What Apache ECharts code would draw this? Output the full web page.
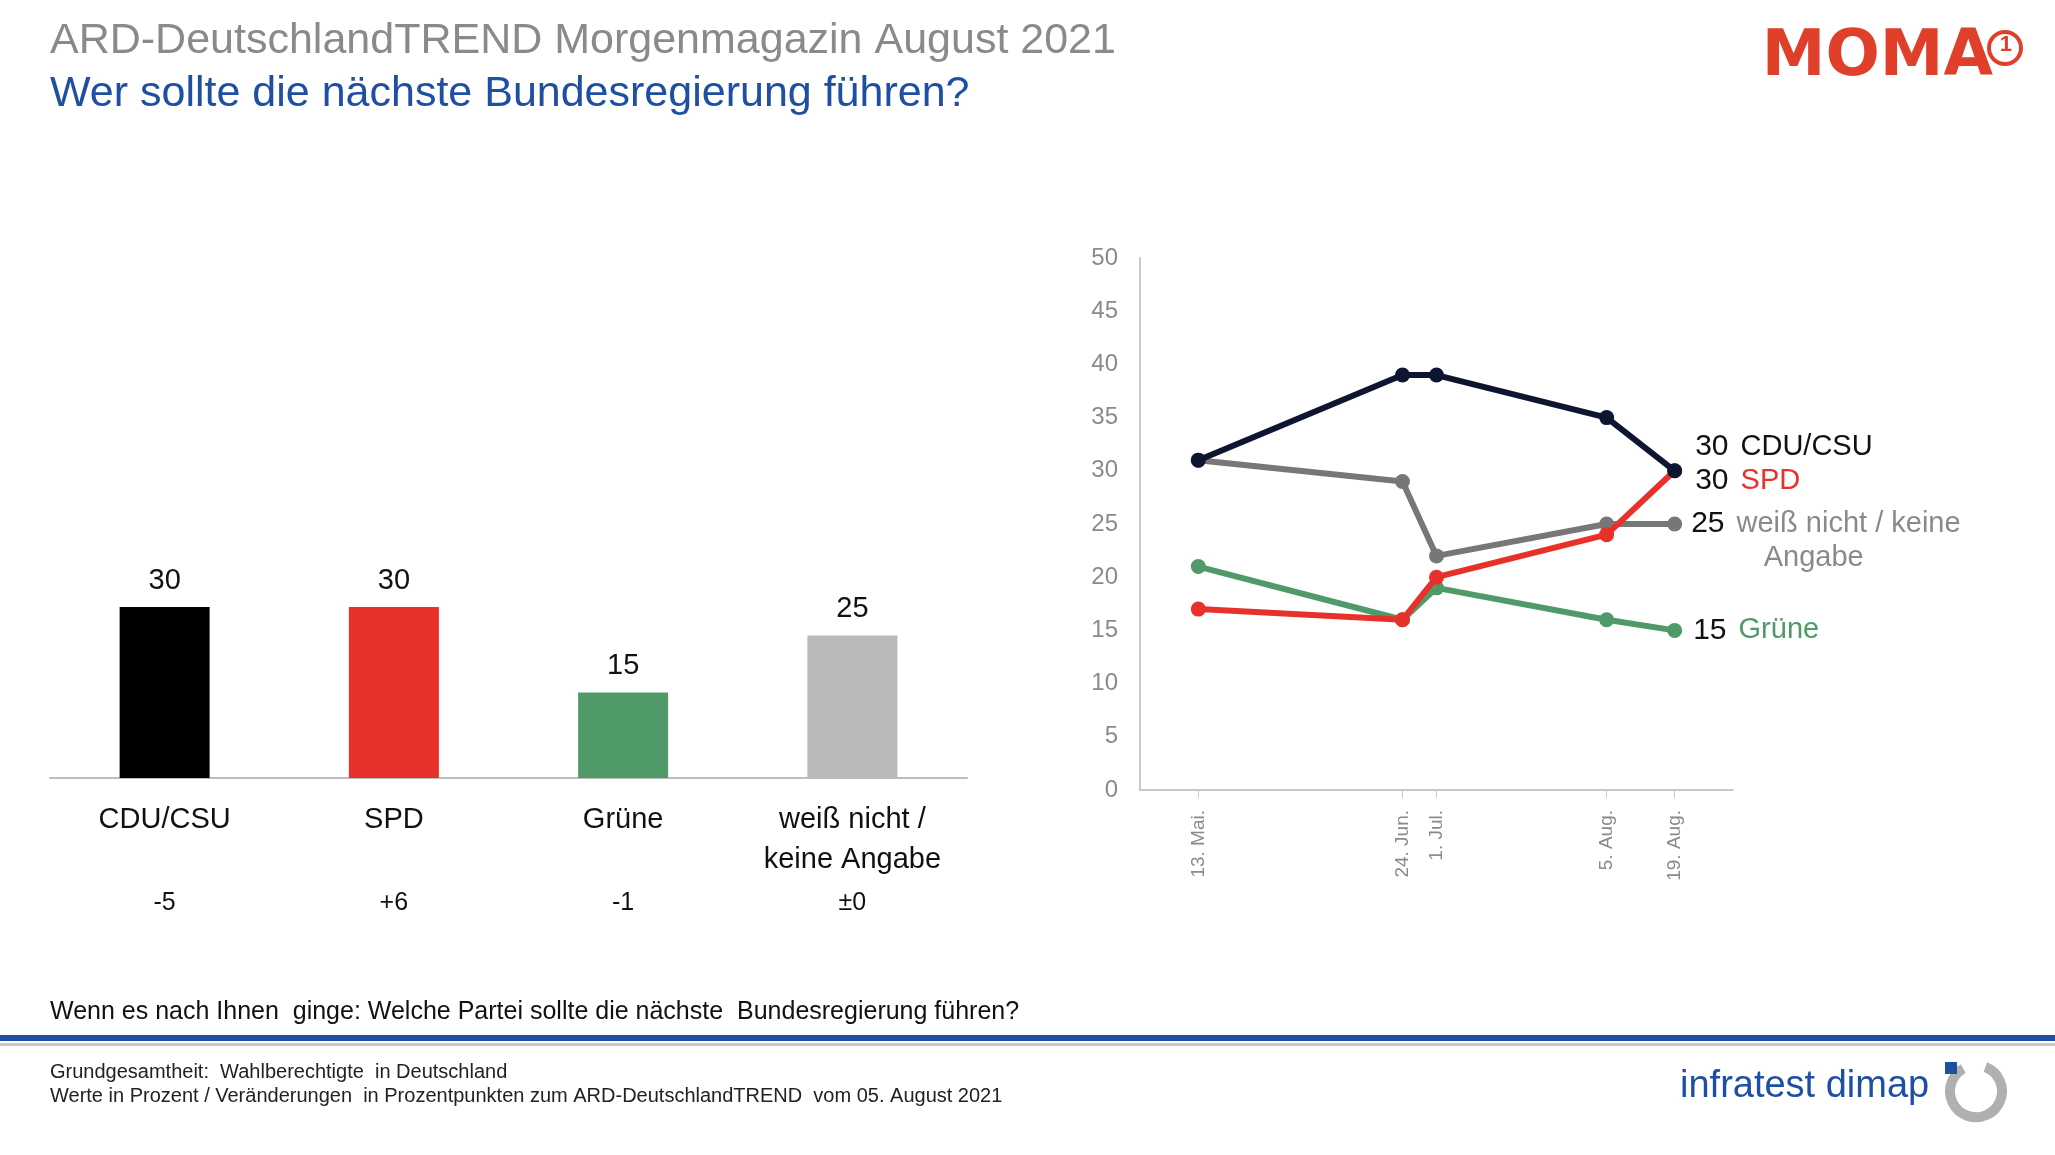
<!DOCTYPE html>
<html><head><meta charset="utf-8">
<script src="https://cdn.jsdelivr.net/npm/echarts@6/dist/echarts.min.js"></script>
<style>html,body{margin:0;background:#fff}#c{width:2055px;height:1155px}</style>
</head><body><div id="c"></div>
<script>
const barCategories = ['CDU/CSU', 'SPD', 'Grüne', 'weiß nicht /\nkeine Angabe'];
const barValues = [30, 30, 15, 25];
const barChanges = ['-5', '+6', '-1', '±0'];
const barColors = ['#000000', '#e8312a', '#4f9a68', '#b9b9b9'];

const lineDays = [133, 175, 182, 217, 231];
const lineDayLabels = ['13. Mai.', '24. Jun.', '1. Jul.', '5. Aug.', '19. Aug.'];
const cduValues = [31, 39, 39, 35, 30];
const spdValues = [17, 16, 20, 24, 30];
const grueneValues = [21, 16, 19, 16, 15];
const wnValues = [31, 29, 22, 25, 25];
const yTicks = [0, 5, 10, 15, 20, 25, 30, 35, 40, 45, 50];

const chart = echarts.init(document.getElementById('c'));
const F = 'Arial, Liberation Sans, sans-serif';

function lineSeries(name, vals, color, labelText, offset, z) {
  return {
    type: 'line', name, xAxisIndex: 1, yAxisIndex: 1, z,
    data: vals.map((v, i) => {
      const d = [lineDays[i], v];
      if (i === vals.length - 1) {
        return { value: d, label: { show: true, position: 'right', offset, formatter: labelText,
          rich: { n: { fontSize: 30, color: '#111', fontFamily: F, padding: [0, 12, 0, 0] },
                  t: { fontSize: 29, color: color === '#777777' ? '#8a8a8a' : (color === '#0d1530' ? '#111' : color), fontFamily: F, lineHeight: 34 } } } };
      }
      return d;
    }),
    symbol: 'circle', symbolSize: 15,
    lineStyle: { color, width: 6 }, itemStyle: { color },
    animation: false
  };
}

chart.setOption({
  animation: false,
  graphic: [
    { type: 'text', left: 50, top: 20, style: { text: 'ARD-DeutschlandTREND Morgenmagazin August 2021', fontSize: 43, fill: '#8a8a8a', fontFamily: F } },
    { type: 'text', left: 50, top: 73, style: { text: 'Wer sollte die nächste Bundesregierung führen?', fontSize: 43, fill: '#1f4fa3', fontFamily: F } },
    { type: 'text', right: 62, top: 26, style: { text: 'MOMA', fontSize: 64, fontWeight: 900, fill: '#e0402a', fontFamily: 'DejaVu Sans', transform: null } },
    { type: 'circle', right: 32, top: 30, shape: { r: 16 }, style: { fill: '#fff', stroke: '#e0402a', lineWidth: 4 } },
    { type: 'text', right: 43, top: 34, style: { text: '1', fontSize: 22, fontWeight: 'bold', fill: '#e0402a', fontFamily: F } },
    { type: 'text', left: 50, top: 1000, style: { text: 'Wenn es nach Ihnen  ginge: Welche Partei sollte die nächste  Bundesregierung führen?', fontSize: 25, fill: '#111', fontFamily: F } },
    { type: 'rect', left: 0, top: 1035, shape: { width: 2055, height: 6 }, style: { fill: '#1f4fa3' } },
    { type: 'rect', left: 0, top: 1043, shape: { width: 2055, height: 3 }, style: { fill: '#c8c8c8' } },
    { type: 'text', left: 50, top: 1062, style: { text: 'Grundgesamtheit:  Wahlberechtigte  in Deutschland', fontSize: 20, fill: '#222', fontFamily: F } },
    { type: 'text', left: 50, top: 1086, style: { text: 'Werte in Prozent / Veränderungen  in Prozentpunkten zum ARD-DeutschlandTREND  vom 05. August 2021', fontSize: 20, fill: '#222', fontFamily: F } },
    { type: 'text', left: 1680, top: 1068, style: { text: 'infratest dimap', fontSize: 38, fill: '#1f4fa3', fontFamily: F } },
    { type: 'arc', left: 1945, top: 1062, shape: { cx: 0, cy: 0, r: 26, startAngle: -1.2, endAngle: 4.2 }, style: { stroke: '#b0b0b0', lineWidth: 10, fill: null } },
    { type: 'rect', left: 1945, top: 1062, shape: { width: 12, height: 12 }, style: { fill: '#1f4fa3' } }
  ],
  grid: [
    { left: 50, width: 917, top: 493, bottom: 377 },
    { left: 1140, right: 322, top: 258, bottom: 365 }
  ],
  xAxis: [
    { type: 'category', gridIndex: 0, data: barCategories,
      axisLine: { lineStyle: { color: '#bdbdbd', width: 2 } }, axisTick: { show: false },
      axisLabel: { interval: 0, margin: 22, fontSize: 29, color: '#111', fontFamily: F, lineHeight: 40,
        formatter: (v, i) => (v.indexOf('\n') >= 0 ? v : v + '\n') + '\n{c|' + barChanges[i] + '}',
        rich: { c: { fontSize: 25, color: '#111', fontFamily: F, lineHeight: 40, padding: [6, 0, 0, 0] } } } },
    { type: 'value', gridIndex: 1, min: 121, max: 243,
      splitLine: { show: false },
      axisLine: { lineStyle: { color: '#c8c8c8', width: 2 } },
      axisTick: { customValues: lineDays, length: 8, lineStyle: { color: '#c8c8c8' } },
      axisLabel: { customValues: lineDays, rotate: 90, fontSize: 19, color: '#8a8a8a', fontFamily: F, margin: 20,
        formatter: v => lineDayLabels[lineDays.indexOf(v)] || '' } }
  ],
  yAxis: [
    { type: 'value', gridIndex: 0, min: 0, max: 50, show: false },
    { type: 'value', gridIndex: 1, min: 0, max: 50, interval: 5,
      splitLine: { show: false },
      axisLine: { show: true, lineStyle: { color: '#c8c8c8', width: 2 } }, axisTick: { show: false },
      axisLabel: { fontSize: 24, color: '#8a8a8a', fontFamily: F, margin: 22, customValues: yTicks } }
  ],
  series: [
    { type: 'bar', xAxisIndex: 0, yAxisIndex: 0, barWidth: 90,
      data: barValues.map((v, i) => ({ value: v, itemStyle: { color: barColors[i] } })),
      label: { show: true, position: 'top', distance: 12, fontSize: 29, color: '#111', fontFamily: F } },
    lineSeries('weiß nicht', wnValues, '#777777', '{n|25}{t|weiß nicht / keine}\n{t|         Angabe}', [4, 17], 2),
    lineSeries('Grüne', grueneValues, '#4f9a68', '{n|15}{t|Grüne}', [6, 0], 3),
    lineSeries('SPD', spdValues, '#e8312a', '{n|30}{t|SPD}', [8, 10], 4),
    lineSeries('CDU/CSU', cduValues, '#0d1530', '{n|30}{t|CDU/CSU}', [8, -24], 5)
  ]
});
</script></body></html>
